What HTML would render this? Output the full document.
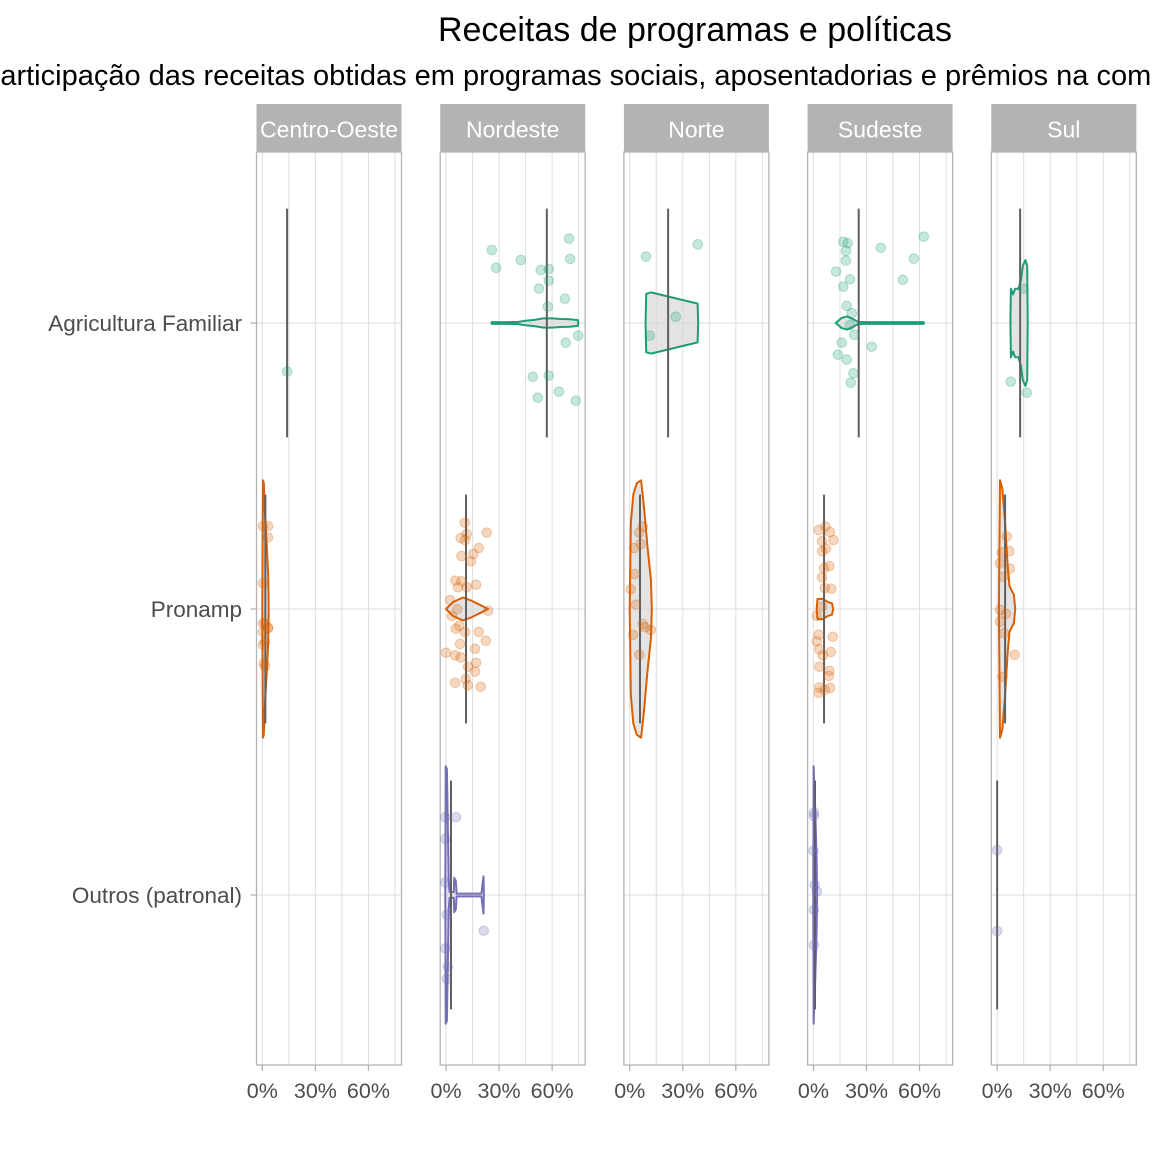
<!DOCTYPE html>
<html><head><meta charset="utf-8"><style>
html,body{margin:0;padding:0;background:#fff;}
svg{display:block;font-family:"Liberation Sans",sans-serif;}
</style></head><body>
<svg id="chart" width="1152" height="1152" viewBox="0 0 1152 1152" xmlns="http://www.w3.org/2000/svg">
<rect width="1152" height="1152" fill="#fff"/>
<text x="695" y="41" text-anchor="middle" font-size="34" fill="#000">Receitas de programas e políticas</text>
<text x="-19" y="85" font-size="29" fill="#000">Participação das receitas obtidas em programas sociais, aposentadorias e prêmios na composição da renda</text>
<g id="plot"></g>
</svg>
<script>
const regions = ["Centro-Oeste","Nordeste","Norte","Sudeste","Sul"];
const groups = ["Agricultura Familiar","Pronamp","Outros (patronal)"];
const xTicks = [0,30,60];
const xTickLabels = ["0%","30%","60%"];
const xMinor = [15,45,75];
const groupColors = ["#1b9e77","#d95f02","#7570b3"];

const medCO = [14, 1.7, null];
const medNE = [57, 11.3, 2.8];
const medNO = [21.7, 5.8, null];
const medSE = [25.6, 6, 0.9];
const medSU = [13, 4.5, 0];

const coAgriX = [14]; const coAgriJ = [0.17];
const coPronX = [0.4,3.2,3.2,0.4,0.4,1.5,3.2,0.4,1.5,0.4,0.8,1.5,3.2];
const coPronJ = [-0.29,-0.29,-0.25,-0.09,0.05,0.05,0.066,0.08,0.115,0.125,0.19,0.2,0.066];
const neAgriX = [25.9,28.3,42.3,53.6,58.1,58.1,52.6,69.6,70.2,67.2,57.6,74.7,67.7,49.1,58.1,63.8,51.9,73.4];
const neAgriJ = [-0.255,-0.193,-0.22,-0.185,-0.189,-0.148,-0.12,-0.295,-0.224,-0.085,-0.057,0.044,0.069,0.188,0.184,0.24,0.261,0.272];
const nePronX = [10.6,11.7,23,8.3,10.8,18.5,15.4,8.7,14.1,5.3,8.7,6.8,11.7,17,2.3,23.8,3.4,6.4,5.5,7.5,10.8,18.5,22.5,7.9,16.4,0,5.1,8.3,12.5,17,16.4,5.1,11.1,12.3,19.6];
const nePronJ = [-0.302,-0.262,-0.267,-0.248,-0.241,-0.213,-0.192,-0.185,-0.167,-0.099,-0.097,-0.076,-0.076,-0.085,-0.031,0.006,0.024,0.001,0.069,0.059,0.08,0.08,0.111,0.122,0.139,0.153,0.162,0.169,0.202,0.188,0.219,0.258,0.245,0.267,0.272];
const neOutX = [-0.4,5.7,-0.4,-0.4,0.4,21.3,-0.4,1,0.4];
const neOutJ = [-0.272,-0.272,-0.196,-0.044,0.069,0.125,0.187,0.251,0.293];
const noAgriX = [9.2,38.5,26,11.3];
const noAgriJ = [-0.232,-0.275,-0.022,0.044];
const noPronX = [7.4,5.4,6.2,2.4,2.8,0.6,3.6,7.4,8.7,11.9,2.0,5.4];
const noPronJ = [-0.288,-0.267,-0.227,-0.213,-0.122,-0.069,-0.015,0.052,0.064,0.073,0.09,0.16];
const seAgriX = [16.9,19.4,18.4,18.4,12.8,20.7,16.9,38.1,62.4,56.8,50.5,18.8,21.7,20.7,23.1,16,33,13.8,18.8,22.6,21.1];
const seAgriJ = [-0.284,-0.279,-0.252,-0.218,-0.18,-0.153,-0.127,-0.263,-0.302,-0.225,-0.151,-0.06,-0.034,0.007,0.041,0.069,0.083,0.111,0.128,0.176,0.209];
const sePronX = [3,6.7,9.4,4.9,11.3,4.9,7.1,6,9,4.9,6.4,10.1,4.9,1.9,3,10.9,1.9,3.3,5.3,9.8,3.3,9,8.7,3.3,6.4,9.4,3];
const sePronJ = [-0.276,-0.288,-0.269,-0.237,-0.241,-0.202,-0.211,-0.143,-0.15,-0.111,-0.073,-0.071,-0.008,0.024,0.09,0.097,0.113,0.141,0.162,0.15,0.202,0.216,0.234,0.274,0.283,0.276,0.293];
const seOutX = [0.3,0.3,0,0.7,1.9,0.3,0.3];
const seOutJ = [-0.288,-0.276,-0.155,-0.035,-0.012,0.052,0.175];
const suAgriX = [7.7,16.8,14.8]; const suAgriJ = [0.205,0.244,-0.12];
const suPronX = [5.4,2.6,6.9,1.6,7.2,3.5,1.6,5,1.6,3.9,9.9,3.1];
const suPronJ = [-0.253,-0.197,-0.202,-0.16,-0.141,-0.113,0.003,0.017,0.044,0.085,0.16,0.237];
const suOutX = [0,0]; const suOutJ = [-0.157,0.126];

const coPronVX = [0.0,0.3,0.8,1.5,2.5,3.3,3.6];
const coPronVH = [0,0.45,0.44,0.33,0.22,0.12,0];
const neAgriVX = [25.7,25.9,35,41,45,50,55,60,65,70,74.5,74.8];
const neAgriVH = [0,0.003,0.003,0.004,0.008,0.011,0.016,0.016,0.014,0.013,0.01,0];
const nePronVX = [0,4,9.6,14,19,23.8];
const nePronVH = [0,0.025,0.04,0.03,0.015,0];
const neOutVX = [-0.4,-0.2,0.5,1.5,2,3,4.4,4.6,5.5,6,10,15,20,21.2,21.4];
const neOutVH = [0,0.45,0.44,0.05,0.01,0.01,0.01,0.06,0.05,0.005,0.005,0.005,0.005,0.065,0];
const noAgriVX = [9.0,9.3,12,38.4,38.7];
const noAgriVH = [0,0.102,0.107,0.068,0];
const noPronVX = [0,0.6,2,4,6.4,8,10,12,12.5];
const noPronVH = [0,0.3,0.4,0.44,0.45,0.36,0.22,0.1,0];
const seAgriVX = [12.6,16,19,22,25.2,30,40,50,62.3,62.5];
const seAgriVH = [0,0.018,0.023,0.015,0.004,0.003,0.003,0.003,0.003,0];
const sePronVX = [1.8,2.3,5,8,10.5,11.2];
const sePronVH = [0,0.035,0.036,0.025,0.02,0];
const seOutVX = [-0.1,0.1,1,1.8,2.1];
const seOutVH = [0,0.45,0.3,0.13,0];
const suAgriVX = [7.5,7.8,9,10.2,12,13.5,14.5,16,17,17.3];
const suAgriVH = [0,0.12,0.1,0.12,0.12,0.15,0.2,0.22,0.2,0];
const suPronVX = [1,1.6,3,4.5,6,7,8.5,9.5,10.2];
const suPronVH = [0,0.45,0.42,0.3,0.15,0.08,0.06,0.05,0];

const medians = [medCO, medNE, medNO, medSE, medSU];
const pointSets = [
  [[coAgriX,coAgriJ],[coPronX,coPronJ],null],
  [[neAgriX,neAgriJ],[nePronX,nePronJ],[neOutX,neOutJ]],
  [[noAgriX,noAgriJ],[noPronX,noPronJ],null],
  [[seAgriX,seAgriJ],[sePronX,sePronJ],[seOutX,seOutJ]],
  [[suAgriX,suAgriJ],[suPronX,suPronJ],[suOutX,suOutJ]]
];
const violinSets = [
  [null,[coPronVX,coPronVH],null],
  [[neAgriVX,neAgriVH],[nePronVX,nePronVH],[neOutVX,neOutVH]],
  [[noAgriVX,noAgriVH],[noPronVX,noPronVH],null],
  [[seAgriVX,seAgriVH],[sePronVX,sePronVH],[seOutVX,seOutVH]],
  [[suAgriVX,suAgriVH],[suPronVX,suPronVH],null]
];

const NS = "http://www.w3.org/2000/svg";
const plot = document.getElementById("plot");
const panelW = 145, panelTop = 152, panelBot = 1065, step = 183.7, firstLeft = 256.5;
const xMin = -3.3, xMax = 78.7;
const catY = [323, 609, 895], catStep = 286;
function panelLeft(p){ return firstLeft + p*step; }
function xScale(p, v){ return panelLeft(p) + (v - xMin)/(xMax - xMin)*panelW; }
function yScale(g, j){ return catY[g] + j*catStep; }
function mk(tag, attrs, parent){ const e = document.createElementNS(NS, tag); for (const k in attrs) e.setAttribute(k, attrs[k]); (parent||plot).appendChild(e); return e; }

regions.forEach((reg, p) => {
  const L = panelLeft(p);
  const g = mk("g", {});
  
  
  xMinor.concat(xTicks).forEach(v => {
    const gl = mk("line", {x1:xScale(p,v), x2:xScale(p,v), y1:panelTop, y2:panelBot, stroke:"#dedede", "stroke-width":1}, g);
    
    
  });
  catY.forEach(cy => {
    const gl = mk("line", {x1:L, x2:L+panelW, y1:cy, y2:cy, stroke:"#dedede", "stroke-width":1}, g);
    
    
  });
  const br = mk("rect", {x:L, y:panelTop, width:panelW, height:panelBot-panelTop, fill:"none", stroke:"#b3b3b3", "stroke-width":1.3}, g);
  
  
  const st = mk("rect", {x:L, y:104, width:panelW, height:48, fill:"#b3b3b3"}, g);
  
  
  const stt = mk("text", {x:L+panelW/2, y:137.5, "text-anchor":"middle", "font-size":23, fill:"#fff"}, g);
  stt.textContent = reg;
  
  
  xTicks.forEach((v, i) => {
    const tk = mk("line", {x1:xScale(p,v), x2:xScale(p,v), y1:panelBot, y2:panelBot+6, stroke:"#b3b3b3", "stroke-width":1.3}, g);
    
    
    const tl = mk("text", {x:xScale(p,v), y:1098, "text-anchor":"middle", "font-size":21.5, fill:"#4d4d4d"}, g);
    tl.textContent = xTickLabels[i];
    
    
  });
  groups.forEach((grp, gi) => {
    const col = groupColors[gi];
    const v = violinSets[p][gi];
    if (v) {
      const xs = v[0], hs = v[1];
      const top = xs.map((x, i) => xScale(p,x).toFixed(1) + "," + yScale(gi, -hs[i]).toFixed(1));
      const bot = xs.map((x, i) => xScale(p,x).toFixed(1) + "," + yScale(gi, hs[i]).toFixed(1)).reverse();
      const vp = mk("polygon", {points: top.concat(bot).join(" "), fill:"#d9d9d9", "fill-opacity":0.7, stroke:col, "stroke-width":2, "stroke-linejoin":"round"}, g);
      
      
    }
    const m = medians[p][gi];
    if (m !== null) {
      const ml = mk("line", {x1:xScale(p,m), x2:xScale(p,m), y1:yScale(gi,-0.4), y2:yScale(gi,0.4), stroke:"#5f5f5f", "stroke-width":2}, g);
      
      
    }
    const ps = pointSets[p][gi];
    if (ps) {
      ps[0].forEach((x, i) => {
        const c = mk("circle", {cx:xScale(p,x), cy:yScale(gi, ps[1][i]), r:4.8, fill:col, "fill-opacity":0.25, stroke:col, "stroke-opacity":0.3, "stroke-width":1}, g);
        
        
      });
    }
  });
});
groups.forEach((grp, gi) => {
  const t = mk("text", {x:242, y:catY[gi]+8, "text-anchor":"end", "font-size":22.5, fill:"#4d4d4d"});
  t.textContent = grp;
  
  
  const tk = mk("line", {x1:250.5, x2:256.5, y1:catY[gi], y2:catY[gi], stroke:"#b3b3b3", "stroke-width":1.3});
  
  
});
</script>
</body></html>
